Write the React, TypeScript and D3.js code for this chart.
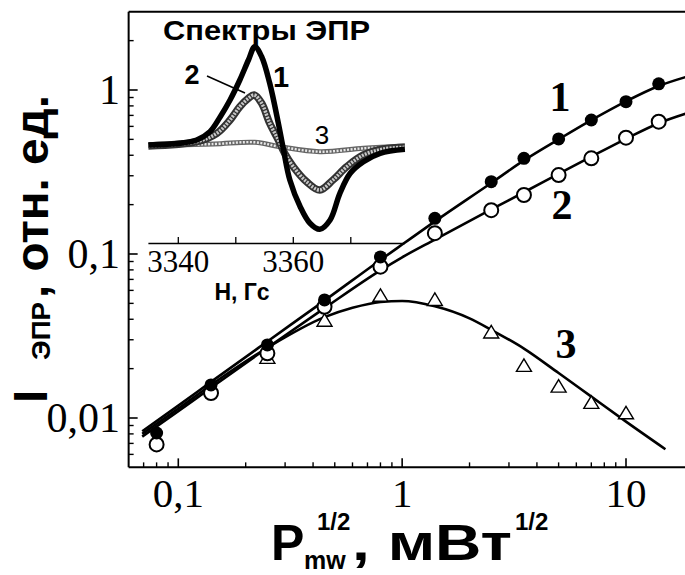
import React from 'react';
import * as d3 from 'd3';

// ---------- main chart data ----------
const powerX = [0.08, 0.14, 0.25, 0.45, 0.8, 1.4, 2.5, 3.5, 5, 7, 10, 14];
const series1 = [0.0081, 0.0159, 0.0279, 0.0525, 0.096, 0.165, 0.276, 0.383, 0.503, 0.656, 0.849, 1.09];
const series2 = [0.0069, 0.0142, 0.0248, 0.0477, 0.0837, 0.134, 0.185, 0.229, 0.303, 0.383, 0.512, 0.641];
const triX = [0.25, 0.45, 0.8, 1.4, 2.5, 3.5, 5, 7, 10];
const series3 = [0.0235, 0.0396, 0.0562, 0.053, 0.0336, 0.021, 0.0157, 0.0125, 0.0108];

const fitX = [0.069, 0.1, 0.14, 0.25, 0.45, 0.8, 1.0, 1.4, 2.5, 3.5, 5, 7, 10, 14, 18.5];
const fit1 = [0.0083, 0.0119, 0.0166, 0.0293, 0.052, 0.092, 0.1142, 0.158, 0.271, 0.372, 0.5, 0.655, 0.853, 1.058, 1.2];
const fit2 = [0.0077, 0.011, 0.0153, 0.0268, 0.0468, 0.0795, 0.0955, 0.1225, 0.187, 0.238, 0.308, 0.3925, 0.504, 0.627, 0.717];
const fit3X = [0.069, 0.1, 0.14, 0.25, 0.45, 0.6, 0.8, 1.0, 1.4, 2.0, 2.5, 3.5, 5, 7, 10, 15];
const fit3 = [0.008, 0.0114, 0.0159, 0.0268, 0.0412, 0.047, 0.051, 0.0517, 0.048, 0.0405, 0.0345, 0.0265, 0.0188, 0.0135, 0.0095, 0.00645];

const xMajor = [0.1, 1, 10];
const xMajorLabels = ['0,1', '1', '10'];
const yMajor = [0.01, 0.1, 1];
const yMajorLabels = ['0,01', '0,1', '1'];

// ---------- inset (EPR spectra) data ----------
const spec1H = [3334.8, 3340.3, 3343.2, 3345.5, 3347.3, 3349.0, 3350.7, 3352.2, 3353.3, 3354.5, 3355.9, 3357.4, 3358.3, 3359.4, 3361.2, 3362.9, 3364.6, 3366.4, 3368.1, 3369.9, 3372.2, 3375.1, 3379.4];
const spec1A = [0, 0.017, 0.05, 0.133, 0.283, 0.45, 0.65, 0.85, 0.983, 0.883, 0.617, 0.217, -0.05, -0.35, -0.617, -0.783, -0.843, -0.75, -0.483, -0.283, -0.167, -0.083, -0.043];
const spec2H = [3334.8, 3343.2, 3346.7, 3349.0, 3350.7, 3352.2, 3353.2, 3354.5, 3355.9, 3357.4, 3358.5, 3360.0, 3362.3, 3364.6, 3366.9, 3369.3, 3372.2, 3375.7, 3379.4];
const spec2A = [-0.01, 0.033, 0.117, 0.25, 0.383, 0.467, 0.5, 0.417, 0.217, 0.05, -0.083, -0.217, -0.367, -0.45, -0.35, -0.217, -0.1, -0.04, -0.023];
const spec3H = [3334.8, 3346.2, 3353.3, 3357.7, 3364.6, 3372.2, 3379.4];
const spec3A = [-0.007, 0.01, 0.027, -0.017, -0.067, -0.033, -0.01];
const insetTicks = [3340, 3350, 3360, 3370];
const insetLabels = [3340, 3360];

const SANS = 'Liberation Sans, Arial, sans-serif';
const SERIF = 'Liberation Serif, Times New Roman, serif';

function minorTicks(lo: number, hi: number): number[] {
  const out: number[] = [];
  for (let e = -3; e <= 2; e++) {
    for (let m = 2; m <= 9; m++) {
      const v = m * Math.pow(10, e);
      if (v > lo && v < hi) out.push(v);
    }
  }
  return out;
}

export default function App() {
  const x = d3.scaleLog().domain([0.1, 10]).range([178.3, 626]);
  const y = d3.scaleLog().domain([0.01, 1]).range([418, 90]);
  const xLo = 0.06, xHi = 20, yLo = 0.005, yHi = 3;
  const left = x(xLo), right = 700, top = y(yHi), bottom = y(yLo);

  const hx = d3.scaleLinear().domain([3340, 3360]).range([178.3, 293.3]);
  const ay = d3.scaleLinear().domain([-1, 1]).range([245, 45]);

  const mainLine = d3.line<[number, number]>().x(d => x(d[0])).y(d => y(d[1])).curve(d3.curveMonotoneX);
  const specLine = d3.line<[number, number]>().x(d => hx(d[0])).y(d => ay(d[1])).curve(d3.curveCatmullRom.alpha(0.5));

  const zip = (a: number[], b: number[]) => a.map((v, i) => [v, b[i]] as [number, number]);

  const tri = (cx: number, cy: number) => {
    const w = 15, h = 12.5;
    return `M${cx},${cy - h / 2}L${cx + w / 2},${cy + h / 2}L${cx - w / 2},${cy + h / 2}Z`;
  };

  return (
    <svg width={685} height={575} style={{ position: 'absolute', left: 0, top: 0, background: '#fff' }}>
      <rect x={0} y={0} width={685} height={575} fill="#fff" />
      {/* inset spectra */}
      <g>
        <path d={specLine(zip(spec3H, spec3A)) || ''} fill="none" stroke="#666" strokeWidth={5} />
        <path d={specLine(zip(spec3H, spec3A)) || ''} fill="none" stroke="#e8e8e8" strokeWidth={2.4} strokeDasharray="2 1.5" />
        <path d={specLine(zip(spec2H, spec2A)) || ''} fill="none" stroke="#333" strokeWidth={7.5} />
        <path d={specLine(zip(spec2H, spec2A)) || ''} fill="none" stroke="#c8c8c8" strokeWidth={3.5} strokeDasharray="2 1.2" />
        <path d={specLine(zip(spec1H, spec1A)) || ''} fill="none" stroke="#000" strokeWidth={5.5} />
        <line x1={hx(3334.8)} x2={hx(3379.4)} y1={243.5} y2={243.5} stroke="#000" strokeWidth={1.5} />
        {insetTicks.map(t => (
          <line key={t} x1={hx(t)} x2={hx(t)} y1={243.5} y2={237} stroke="#000" strokeWidth={1.3} />
        ))}
        {insetLabels.map(t => (
          <text key={t} x={hx(t)} y={272} textAnchor="middle" fontFamily={SERIF} fontSize={31}>{t}</text>
        ))}
        <text x={242} y={300} textAnchor="middle" fontFamily={SANS} fontWeight="bold" fontSize={23}>H, Гс</text>
        <text x={163} y={40} fontFamily={SANS} fontWeight="bold" fontSize={28} textLength={207} lengthAdjust="spacingAndGlyphs">Спектры ЭПР</text>
        <text x={192} y={84} textAnchor="middle" fontFamily={SANS} fontWeight="bold" fontSize={27}>2</text>
        <text x={281} y={87} textAnchor="middle" fontFamily={SANS} fontWeight="bold" fontSize={29}>1</text>
        <text x={322} y={144} textAnchor="middle" fontFamily={SANS} fontSize={26}>3</text>
        <line x1={207} y1={76} x2={245} y2={93} stroke="#000" strokeWidth={1.5} />
      </g>

      {/* fit curves */}
      <path d={mainLine(zip(fitX, fit1)) || ''} fill="none" stroke="#000" strokeWidth={2.6} />
      <path d={mainLine(zip(fitX, fit2)) || ''} fill="none" stroke="#000" strokeWidth={2.6} />
      <path d={mainLine(zip(fit3X, fit3)) || ''} fill="none" stroke="#000" strokeWidth={2.6} />

      {/* markers */}
      {triX.map((v, i) => (
        <path key={'t' + i} d={tri(x(v), y(series3[i]))} fill="#fff" stroke="#000" strokeWidth={1.4} />
      ))}
      {powerX.map((v, i) => (
        <circle key={'o' + i} cx={x(v)} cy={y(series2[i])} r={7} fill="#fff" stroke="#000" strokeWidth={2} />
      ))}
      {powerX.map((v, i) => (
        <circle key={'f' + i} cx={x(v)} cy={y(series1[i])} r={6.5} fill="#000" />
      ))}

      {/* frame and axes */}
      <line x1={left} x2={right} y1={top} y2={top} stroke="#000" strokeWidth={2} />
      <line x1={left} x2={left} y1={top} y2={bottom} stroke="#000" strokeWidth={2} />
      <line x1={left} x2={right} y1={bottom} y2={bottom} stroke="#000" strokeWidth={2} />
      {xMajor.map(v => (
        <line key={'xm' + v} x1={x(v)} x2={x(v)} y1={bottom} y2={bottom - 9} stroke="#000" strokeWidth={1.6} />
      ))}
      {minorTicks(xLo, xHi).map(v => (
        <line key={'xn' + v} x1={x(v)} x2={x(v)} y1={bottom} y2={bottom - 5} stroke="#000" strokeWidth={1.4} />
      ))}
      {yMajor.map(v => (
        <line key={'ym' + v} x1={left} x2={left + 9} y1={y(v)} y2={y(v)} stroke="#000" strokeWidth={1.6} />
      ))}
      {minorTicks(yLo, yHi).map(v => (
        <line key={'yn' + v} x1={left} x2={left + 5} y1={y(v)} y2={y(v)} stroke="#000" strokeWidth={1.4} />
      ))}
      {xMajor.map((v, i) => (
        <text key={'xl' + v} x={x(v)} y={507} textAnchor="middle" fontFamily={SERIF} fontSize={41}>{xMajorLabels[i]}</text>
      ))}
      {yMajor.map((v, i) => (
        <text key={'yl' + v} x={120} y={y(v) + 13.5} textAnchor="end" fontFamily={SERIF} fontSize={42}>{yMajorLabels[i]}</text>
      ))}

      {/* series labels */}
      <text x={560} y={111} textAnchor="middle" fontFamily={SERIF} fontWeight="bold" fontSize={42}>1</text>
      <text x={562} y={219} textAnchor="middle" fontFamily={SERIF} fontWeight="bold" fontSize={42}>2</text>
      <text x={566} y={358} textAnchor="middle" fontFamily={SERIF} fontWeight="bold" fontSize={42}>3</text>

      {/* axis titles */}
      <g transform="rotate(-90)">
        <text x={-403} y={47} fontFamily={SANS} fontWeight="bold" fontSize={48}>I</text>
        <text x={-360} y={50} fontFamily={SANS} fontWeight="bold" fontSize={26} textLength={58} lengthAdjust="spacingAndGlyphs">ЭПР</text>
        <text x={-298} y={48} fontFamily={SANS} fontWeight="bold" fontSize={46} textLength={203} lengthAdjust="spacingAndGlyphs">, отн. ед.</text>
      </g>
      <text x={271} y={560} fontFamily={SANS} fontWeight="bold" fontSize={50}>P</text>
      <text x={304} y={569} fontFamily={SANS} fontWeight="bold" fontSize={25}>mw</text>
      <text x={317} y={530} fontFamily={SANS} fontWeight="bold" fontSize={24}>1/2</text>
      <text x={352} y={560} fontFamily={SANS} fontWeight="bold" fontSize={50} textLength={160} lengthAdjust="spacingAndGlyphs">, мВт</text>
      <text x={515} y={530} fontFamily={SANS} fontWeight="bold" fontSize={24}>1/2</text>
    </svg>
  );
}
